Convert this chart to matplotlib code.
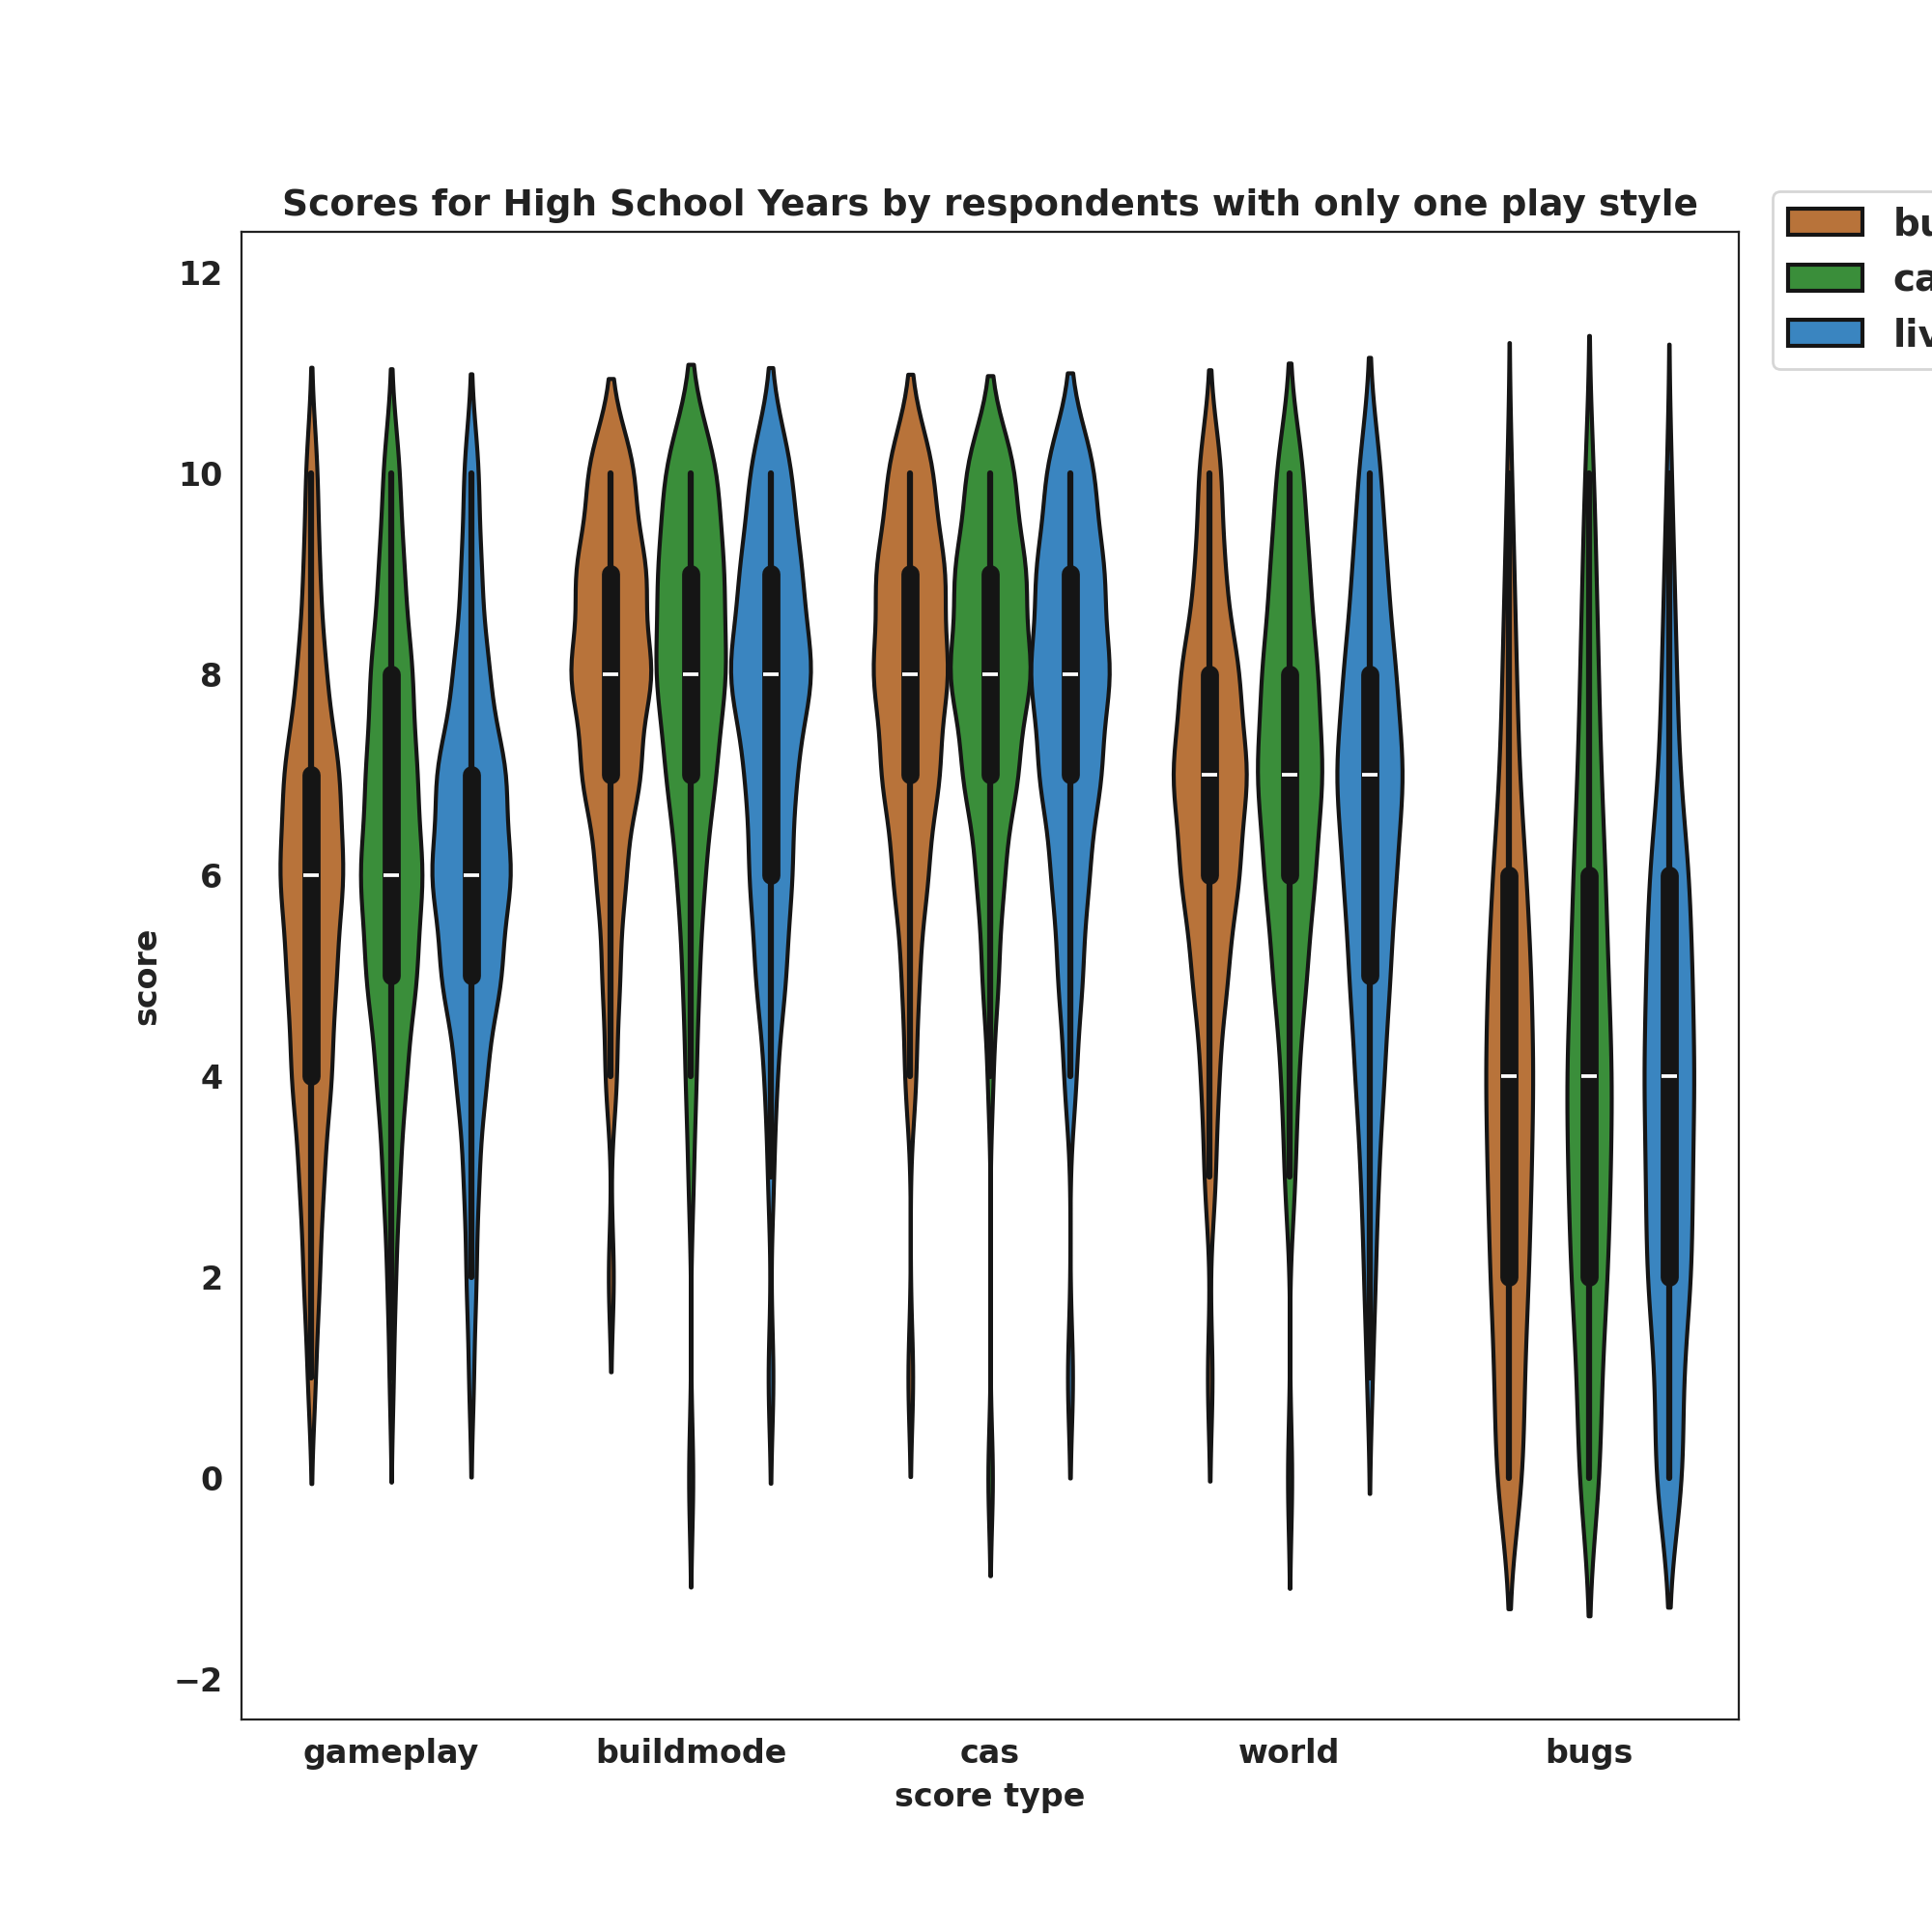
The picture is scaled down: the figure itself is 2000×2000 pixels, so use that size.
import numpy as np, pandas as pd, matplotlib
matplotlib.use("Agg")
import matplotlib.pyplot as plt, seaborn as sns

score_types = ["gameplay", "buildmode", "cas", "world", "bugs"]
styles = ["builder", "casual", "live"]
scores = list(range(11))
# counts of each score 0..10
counts = {
 ("gameplay","builder"): [0,2,4,6,10,12,16,14,7,4,3],
 ("gameplay","casual"):  [0,1,2,4,7,12,15,12,10,6,4],
 ("gameplay","live"):    [0,1,2,3,6,12,16,14,7,4,3],
 ("buildmode","builder"):[0,0,1,0,2,3,5,10,14,12,8],
 ("buildmode","casual"): [1,0,0,1,2,3,5,9,13,12,10],
 ("buildmode","live"):   [0,1,0,1,2,5,7,8,14,10,7],
 ("cas","builder"):      [0,1,0,0,2,3,6,10,13,12,8],
 ("cas","casual"):       [1,0,0,0,1,3,5,10,15,13,9],
 ("cas","live"):         [0,1,0,0,2,4,6,10,13,11,8],
 ("world","builder"):    [0,1,0,2,3,6,10,13,10,5,4],
 ("world","casual"):     [1,0,0,2,3,6,9,12,10,7,5],
 ("world","live"):       [0,1,2,3,5,7,9,12,9,6,4],
 ("bugs","builder"):     [6,6,8,9,10,9,7,4,3,2,1],
 ("bugs","casual"):      [5,5,8,9,10,8,7,5,4,3,2],
 ("bugs","live"):        [6,5,9,9,10,9,8,4,3,2,1],
}
rows = []
for (t, s), c in counts.items():
    for v, n in zip(scores, c):
        rows += [(t, s, v)] * n
df = pd.DataFrame(rows, columns=["score type", "play style", "score"])

sns.set_style("white")
plt.rcParams['font.family'] = ['DejaVu Sans']
plt.rcParams['font.weight'] = 'bold'
fig, ax = plt.subplots(figsize=(10, 10), dpi=200)
pal = {"builder": "#b8733a", "casual": "#3a8e3a", "live": "#3a85c0"}
sns.violinplot(data=df, x="score type", y="score", hue="play style", order=score_types,
               hue_order=styles, palette=pal, inner="box", linewidth=1.5, ax=ax,
               linecolor="#151515", saturation=1, bw_adjust=0.6)
for sp in ax.spines.values():
    sp.set_color("#222222")
ax.set_title("Scores for High School Years by respondents with only one play style",
             fontsize=13.5, fontweight="bold", color="#222222")
ax.set_xlabel("score type", fontsize=12, fontweight="bold", color="#222222")
ax.set_ylabel("score", fontsize=12, fontweight="bold", color="#222222")
ax.set_ylim(-2.4, 12.4)
ax.set_yticks(range(-2, 13, 2))
ax.tick_params(labelsize=12, colors="#222222")
for l in ax.get_xticklabels() + ax.get_yticklabels():
    l.set_fontweight("bold")
ax.legend(bbox_to_anchor=(1.01, 1.04), loc="upper left",
          prop={"weight": "bold", "size": 14})
fig.savefig("out.png", dpi=200)
